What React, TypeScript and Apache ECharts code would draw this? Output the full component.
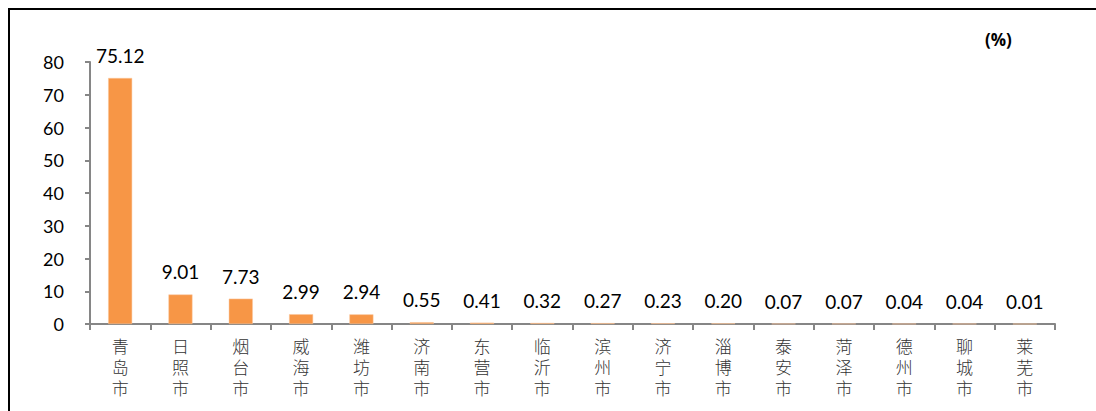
import React, { useEffect, useRef } from "react";
import * as echarts from "echarts";

const categories = ["青岛市", "日照市", "烟台市", "威海市", "潍坊市", "济南市", "东营市", "临沂市", "滨州市", "济宁市", "淄博市", "泰安市", "菏泽市", "德州市", "聊城市", "莱芜市"];
const values = [75.12, 9.01, 7.73, 2.99, 2.94, 0.55, 0.41, 0.32, 0.27, 0.23, 0.2, 0.07, 0.07, 0.04, 0.04, 0.01];
const yTicks = { min: 0, max: 80, interval: 10 };
const unitLabel = "(%)";

export default function App() {
  const ref = useRef<HTMLDivElement>(null);
  useEffect(() => {
    const chart = echarts.init(ref.current!, null, { renderer: "svg" });
    const font = "Lato, 'Open Sans', 'Noto Sans', sans-serif";
    chart.setOption({
      animation: false,
      backgroundColor: "#ffffff",
      grid: { left: 90, right: 41, top: 62, bottom: 87 },
      graphic: [
        { type: "line", shape: { x1: 8, y1: 9, x2: 1096, y2: 9 }, style: { stroke: "#000", lineWidth: 2 } },
        { type: "line", shape: { x1: 9, y1: 9, x2: 9, y2: 411 }, style: { stroke: "#000", lineWidth: 2 } },
        { type: "text", left: 985, top: 31, style: { text: unitLabel, font: "bold 17px 'Open Sans', sans-serif", fill: "#000" } },
      ],
      xAxis: {
        type: "category",
        data: categories,
        boundaryGap: true,
        axisLine: { show: true, lineStyle: { color: "#868686", width: 2 } },
        axisTick: { show: true, alignWithLabel: false, length: 6, lineStyle: { color: "#868686", width: 2 } },
        axisLabel: {
          interval: 0,
          margin: 11,
          color: "#333",
          fontSize: 17,
          lineHeight: 21,
          fontFamily: "'Noto Sans CJK SC', sans-serif",
          fontWeight: 300,
          formatter: (v: string) => v.split("").join("\n"),
        },
      },
      yAxis: {
        type: "value",
        min: yTicks.min,
        max: yTicks.max,
        interval: yTicks.interval,
        splitLine: { show: false },
        axisLine: { show: true, lineStyle: { color: "#868686", width: 2 } },
        axisTick: { show: true, length: 5, lineStyle: { color: "#868686", width: 2 } },
        axisLabel: { color: "#000", fontSize: 18, fontFamily: font, margin: 26 },
      },
      series: [
        {
          type: "bar",
          data: values,
          barWidth: 24,
          itemStyle: { color: "#F79646", borderColor: "#FBC9A0", borderWidth: 0.5 },
          label: {
            show: true,
            position: "top",
            distance: 13,
            color: "#000",
            fontSize: 19,
            fontFamily: font,
            formatter: (p: any) => Number(p.value).toFixed(2),
          },
        },
      ],
    });
    return () => chart.dispose();
  }, []);
  return <div ref={ref} style={{ position: "fixed", left: 0, top: 0, width: 1096, height: 411 }} />;
}
